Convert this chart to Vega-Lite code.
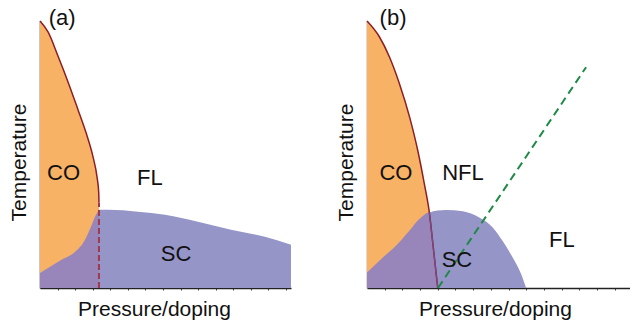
{
  "$schema": "https://vega.github.io/schema/vega-lite/v6.json",
  "padding": {"left": 8, "top": 7, "right": 0, "bottom": 0},
  "spacing": 44,
  "config": {
    "view": {"stroke": null},
    "font": "Liberation Sans",
    "axis": {"labels": false, "grid": false, "domainColor": "#222", "domainWidth": 1.5, "tickColor": "#444", "tickSize": 2, "titleFont": "Liberation Sans", "titleFontSize": 21, "titleFontWeight": "normal", "titleColor": "#111"},
    "axisX": {"titlePadding": 8},
    "axisY": {"titlePadding": 11, "ticks": false}
  },
  "datasets": {
    "blueA": [
      {"X": 0, "Y": 5.6}, {"X": 3.2, "Y": 7.5}, {"X": 8.4, "Y": 10.5}, {"X": 13.9, "Y": 13.5}, {"X": 17.9, "Y": 18.0}, {"X": 20.3, "Y": 22.9}, {"X": 22.3, "Y": 27.4}, {"X": 23.5, "Y": 29.3},
      {"X": 27.1, "Y": 29.3}, {"X": 39.0, "Y": 28.6}, {"X": 49.8, "Y": 27.4}, {"X": 62.9, "Y": 24.8}, {"X": 76.1, "Y": 21.8}, {"X": 89.6, "Y": 19.2}, {"X": 100, "Y": 16.2}
    ],
    "ovA": [
      {"X": 0, "Y": 5.6}, {"X": 3.2, "Y": 7.5}, {"X": 8.4, "Y": 10.5}, {"X": 13.9, "Y": 13.5}, {"X": 17.9, "Y": 18.0}, {"X": 20.3, "Y": 22.9}, {"X": 22.3, "Y": 27.4}, {"X": 23.5, "Y": 29.3}
    ],
    "coA": [
      {"X": 0, "Y": 100}, {"X": 3.2, "Y": 95.9}, {"X": 7.2, "Y": 86.8}, {"X": 11.2, "Y": 77.1}, {"X": 15.1, "Y": 66.9}, {"X": 18.3, "Y": 58.3}, {"X": 21.1, "Y": 49.2}, {"X": 22.7, "Y": 41.7}, {"X": 23.4, "Y": 35.7}, {"X": 23.5, "Y": 32.0}
    ],
    "dashA": [{"X": 23.5, "Y": 0}, {"X": 23.5, "Y": 32.0}],
    "textA": [
      {"X": 8.8, "Y": 101.1, "label": "(a)"},
      {"X": 9.4, "Y": 42.9, "label": "CO"},
      {"X": 43.8, "Y": 41.2, "label": "FL"},
      {"X": 54.2, "Y": 12.7, "label": "SC"}
    ],
    "blueB": [
      {"X": 0, "Y": 5.8}, {"X": 6.0, "Y": 11.4}, {"X": 11.0, "Y": 15.8}, {"X": 16.1, "Y": 21.4}, {"X": 19.9, "Y": 25.8}, {"X": 23.7, "Y": 28.3}, {"X": 30.0, "Y": 29.2}, {"X": 36.4, "Y": 28.7}, {"X": 42.7, "Y": 26.4}, {"X": 47.8, "Y": 22.7}, {"X": 51.6, "Y": 17.6}, {"X": 55.4, "Y": 11.4}, {"X": 58.6, "Y": 5.2}, {"X": 60.5, "Y": 0}
    ],
    "ovB": [
      {"X": 0, "Y": 5.8}, {"X": 6.0, "Y": 11.4}, {"X": 11.0, "Y": 15.8}, {"X": 16.1, "Y": 21.4}, {"X": 19.9, "Y": 25.8}, {"X": 23.7, "Y": 28.3}, {"X": 25.2, "Y": 15.2}, {"X": 26.9, "Y": 0}
    ],
    "coB": [
      {"X": 0, "Y": 100}, {"X": 4.7, "Y": 94.1}, {"X": 8.5, "Y": 86.6}, {"X": 12.3, "Y": 76.6}, {"X": 16.2, "Y": 64.0}, {"X": 19.3, "Y": 51.5}, {"X": 21.8, "Y": 39.0}, {"X": 23.7, "Y": 28.3}, {"X": 25.2, "Y": 15.2}, {"X": 26.9, "Y": 0}
    ],
    "lineB2": [{"X": 23.7, "Y": 28.3}, {"X": 25.2, "Y": 15.2}, {"X": 26.9, "Y": 0}],
    "greenB": [{"X": 27.0, "Y": 0}, {"X": 83.3, "Y": 82.7}],
    "textB": [
      {"X": 9.9, "Y": 101.1, "label": "(b)"},
      {"X": 11.0, "Y": 43.1, "label": "CO"},
      {"X": 36.5, "Y": 43.1, "label": "NFL"},
      {"X": 34.2, "Y": 10.5, "label": "SC"},
      {"X": 74.1, "Y": 18.0, "label": "FL"}
    ]
  },
  "hconcat": [
    {
      "width": 251,
      "height": 267,
      "encoding": {
        "x": {"field": "X", "type": "quantitative", "scale": {"domain": [0, 100], "nice": false},
              "axis": {"title": "Pressure/doping", "titleX": 114, "values": [7, 14, 21, 28, 35, 42, 49, 56, 63, 70, 77, 84, 91, 98]}},
        "y": {"field": "Y", "type": "quantitative", "scale": {"domain": [0, 100], "nice": false},
              "axis": {"title": "Temperature", "titleY": 141}}
      },
      "layer": [
        {"data": {"name": "blueA"}, "mark": {"type": "area", "color": "#9595C8", "interpolate": "monotone"}},
        {"data": {"name": "coA"}, "mark": {"type": "area", "color": "#F8B266", "interpolate": "monotone"}},
        {"data": {"name": "ovA"}, "mark": {"type": "area", "color": "#9886BB", "interpolate": "monotone"}},
        {"data": {"name": "coA"}, "mark": {"type": "line", "color": "#8B1F24", "strokeWidth": 1.5, "interpolate": "monotone"}},
        {"data": {"name": "dashA"}, "mark": {"type": "line", "color": "#9E3A4A", "strokeWidth": 2, "strokeDash": [6, 3]},
         "encoding": {"order": {"field": "Y", "type": "quantitative"}}},
        {"data": {"name": "textA"}, "mark": {"type": "text", "fontSize": 22, "color": "#111", "baseline": "middle", "align": "center"},
         "encoding": {"text": {"field": "label"}}}
      ]
    },
    {
      "width": 263,
      "height": 267,
      "encoding": {
        "x": {"field": "X", "type": "quantitative", "scale": {"domain": [0, 100], "nice": false},
              "axis": {"title": "Pressure/doping", "titleX": 128, "values": [6.73, 13.46, 20.19, 26.92, 33.65, 40.38, 47.11, 53.84, 60.57, 67.3, 74.03, 80.76, 87.49, 94.22]}},
        "y": {"field": "Y", "type": "quantitative", "scale": {"domain": [0, 100], "nice": false},
              "axis": {"title": "Temperature", "titleY": 141, "domainColor": "#A05A66"}}
      },
      "layer": [
        {"data": {"name": "blueB"}, "mark": {"type": "area", "color": "#9595C8", "interpolate": "monotone"}},
        {"data": {"name": "coB"}, "mark": {"type": "area", "color": "#F8B266", "interpolate": "monotone"}},
        {"data": {"name": "ovB"}, "mark": {"type": "area", "color": "#9886BB", "interpolate": "monotone"}},
        {"data": {"name": "coB"}, "mark": {"type": "line", "color": "#8B1F24", "strokeWidth": 1.5, "interpolate": "monotone"}},
        {"data": {"name": "lineB2"}, "mark": {"type": "line", "color": "#7A4A86", "strokeWidth": 1.3, "interpolate": "monotone"}},
        {"data": {"name": "greenB"}, "mark": {"type": "line", "color": "#1E8A45", "strokeWidth": 2, "strokeDash": [8, 5]}},
        {"data": {"name": "textB"}, "mark": {"type": "text", "fontSize": 22, "color": "#111", "baseline": "middle", "align": "center"},
         "encoding": {"text": {"field": "label"}}}
      ]
    }
  ]
}
